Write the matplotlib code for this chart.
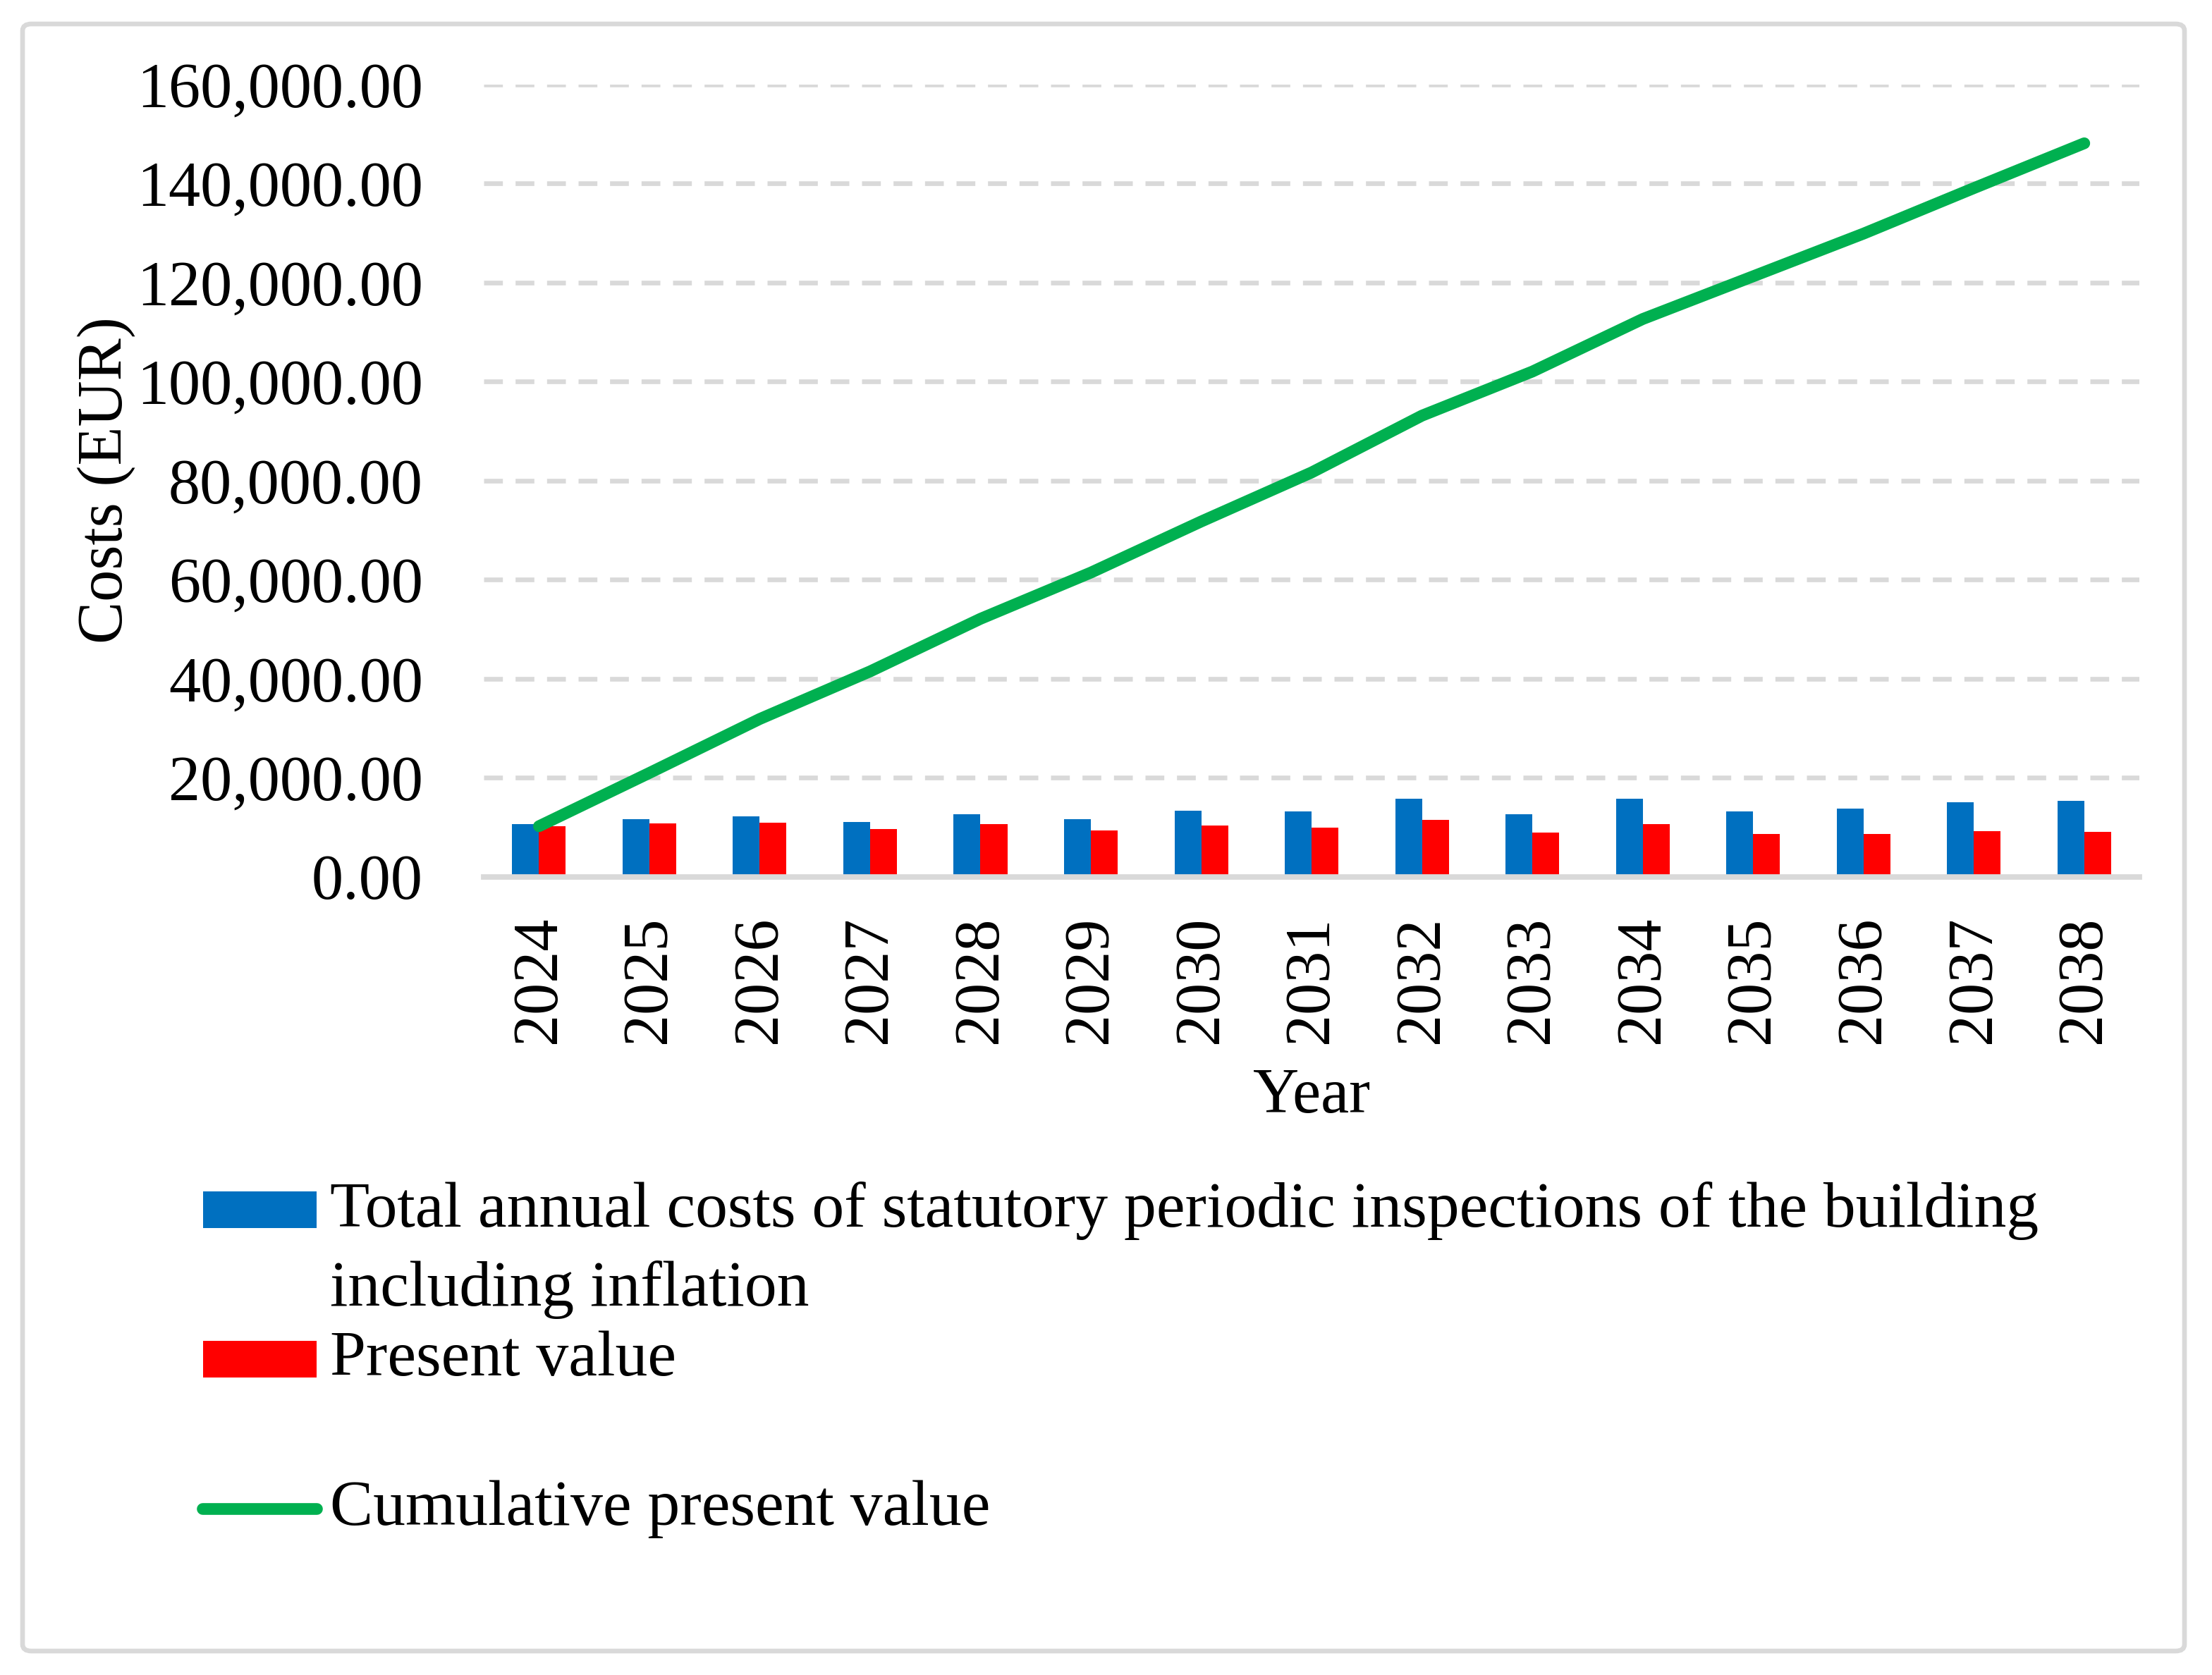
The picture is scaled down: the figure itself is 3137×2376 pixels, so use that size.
"""Annual inspection costs vs present value, with cumulative present value line."""

import matplotlib

matplotlib.use("Agg")
import matplotlib.pyplot as plt
import numpy as np
from matplotlib.lines import Line2D
from matplotlib.patches import FancyBboxPatch, Rectangle
from matplotlib.ticker import FuncFormatter

years = ["2024", "2025", "2026", "2027", "2028", "2029", "2030", "2031",
         "2032", "2033", "2034", "2035", "2036", "2037", "2038"]
total_costs = [10610, 11610, 12180, 11040, 12610, 11610, 13320, 13180,
               15740, 12610, 15740, 13180, 13750, 15030, 15310]
present_value = [10190, 10760, 10900, 9620, 10610, 9330, 10330, 9900,
                 11470, 8900, 10610, 8620, 8620, 9190, 9050]
cumulative_pv = [10190, 20940, 31840, 41450, 52070, 61400, 71720, 81620,
                 93090, 101990, 112600, 121220, 129840, 139030, 148080]
y_ticks = [0, 20000, 40000, 60000, 80000, 100000, 120000, 140000, 160000]

label_total = "Total annual costs of statutory periodic inspections of the building\nincluding inflation"
label_pv = "Present value"
label_cum = "Cumulative present value"

BLUE = "#0070C0"
RED = "#FF0000"
GREEN = "#00B050"
GRID = "#D9D9D9"
FONT = "Liberation Serif"
FS = 32.5
FS_LEG = 33

plt.rcParams["font.family"] = [FONT, "DejaVu Serif"]

fig = plt.figure(figsize=(15.685, 11.88), dpi=200)
ax = fig.add_axes([0.2187, 0.4766, 0.7485, 0.4731])

x = np.arange(len(years))
width = 0.243
ax.bar(x - width / 2, total_costs, width, color=BLUE, zorder=2)
ax.bar(x + width / 2, present_value, width, color=RED, zorder=2)
ax.plot(x, cumulative_pv, color=GREEN, linewidth=6.0, solid_capstyle="round", zorder=3)

ax.set_xlim(-0.5, len(years) - 0.5)
ax.set_ylim(y_ticks[0], y_ticks[-1])
ax.set_yticks(y_ticks)
ax.yaxis.set_major_formatter(FuncFormatter(lambda v, _: f"{v:,.2f}"))
ax.set_xticks(x)
ax.set_xticklabels(years, rotation=90)

ax.tick_params(axis="both", length=0, labelsize=FS, colors="black")
ax.tick_params(axis="y", pad=31)
ax.tick_params(axis="x", pad=20)

ax.set_axisbelow(True)
ax.yaxis.grid(True, color=GRID, linewidth=2.4, linestyle=(0, (4.0, 2.7)))
for side in ("top", "right", "left"):
    ax.spines[side].set_visible(False)
ax.spines["bottom"].set_color(GRID)
ax.spines["bottom"].set_linewidth(2.8)
ax.spines["bottom"].set_zorder(2.5)

ax.set_ylabel("Costs (EUR)", fontsize=FS)
ax.yaxis.set_label_coords(-0.228, 0.5)
ax.yaxis.label.set_va("center")
ax.set_xlabel("Year", fontsize=FS)
ax.xaxis.set_label_coords(0.5, -0.278)
ax.xaxis.label.set_va("center")

# hand-placed legend to match the original layout
W, H = 3137.0, 2376.0
fig.add_artist(Rectangle((288 / W, 1 - 1742 / H), 161 / W, 52 / H,
                         transform=fig.transFigure, color=BLUE, lw=0))
fig.add_artist(Rectangle((288 / W, 1 - 1954 / H), 161 / W, 52 / H,
                         transform=fig.transFigure, color=RED, lw=0))
fig.add_artist(Line2D([287 / W, 449 / W], [1 - 2140 / H, 1 - 2140 / H],
                      transform=fig.transFigure, color=GREEN, linewidth=6.0,
                      solid_capstyle="round"))
line1, line2 = label_total.split("\n")
fig.text(468 / W, 1 - 1740 / H, line1, fontsize=FS_LEG, va="baseline")
fig.text(468 / W, 1 - 1852 / H, line2, fontsize=FS_LEG, va="baseline")
fig.text(468 / W, 1 - 1951 / H, label_pv, fontsize=FS_LEG, va="baseline")
fig.text(468 / W, 1 - 2163 / H, label_cum, fontsize=FS_LEG, va="baseline")

# outer chart border
fig.add_artist(FancyBboxPatch((32 / W, 34 / H), 3066 / W, 2308 / H,
                              boxstyle="round,pad=0,rounding_size=0.004",
                              transform=fig.transFigure, fill=False,
                              edgecolor=GRID, linewidth=2.4))

fig.savefig("out.png", dpi=200)
plt.close(fig)
